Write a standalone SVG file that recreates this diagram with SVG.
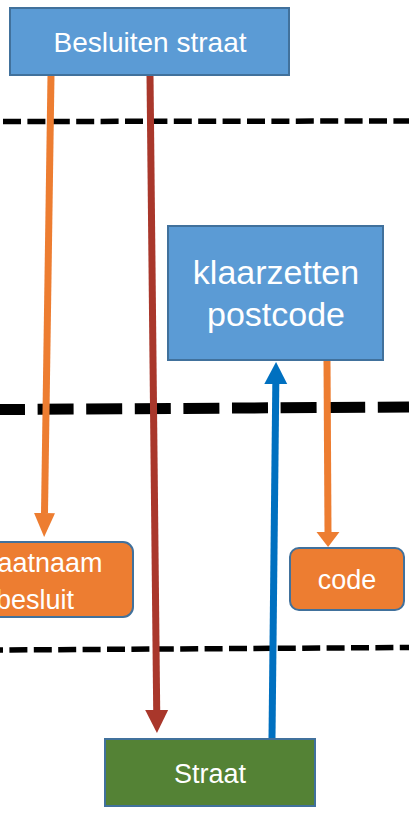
<svg xmlns="http://www.w3.org/2000/svg" width="409" height="814" viewBox="0 0 409 814">
  <style>
    .proc { fill: #5B9BD5; stroke: #41719C; stroke-width: 2; }
    .data { fill: #ED7D31; stroke: #41719C; stroke-width: 2; }
    .entity { fill: #548235; stroke: #41719C; stroke-width: 2; }
    .lbl { font-family: "Liberation Sans", Arial, sans-serif; fill: #FFFFFF; text-anchor: middle; }
    .lane { fill: none; stroke: #000000; }
    .thin { stroke-width: 5.5; stroke-dasharray: 18 6.4; }
    .thick { stroke-width: 11; stroke-dasharray: 36 12.6; }
    .flow { fill: none; stroke-width: 7; }
  </style>
  <defs>
    <marker id="head-orange" markerUnits="userSpaceOnUse" viewBox="0 -12 24 24" refX="0" refY="0" markerWidth="24" markerHeight="24" orient="auto">
      <path d="M0,-10.5 L24,0 L0,10.5 z" fill="#ED7D31"/>
    </marker>
    <marker id="head-orange-short" markerUnits="userSpaceOnUse" viewBox="0 -12 16 24" refX="0" refY="0" markerWidth="16" markerHeight="24" orient="auto">
      <path d="M0,-11.5 L15,0 L0,11.5 z" fill="#ED7D31"/>
    </marker>
    <marker id="head-red" markerUnits="userSpaceOnUse" viewBox="0 -12 24 24" refX="0" refY="0" markerWidth="24" markerHeight="24" orient="auto">
      <path d="M0,-11.5 L23,0 L0,11.5 z" fill="#A9372B"/>
    </marker>
    <marker id="head-blue" markerUnits="userSpaceOnUse" viewBox="0 -12 24 24" refX="0" refY="0" markerWidth="24" markerHeight="24" orient="auto">
      <path d="M0,-11.5 L22,0 L0,11.5 z" fill="#0070C0"/>
    </marker>
  </defs>

  <!-- lane separators -->
  <g id="lanes">
    <line class="lane thin" x1="3" y1="121.5" x2="409" y2="121"/>
    <line class="lane thick" x1="-11" y1="409.6" x2="409" y2="407"/>
    <line class="lane thin" x1="-15" y1="650.1" x2="409" y2="647.5"/>
  </g>

  <!-- connectors -->
  <g id="connectors">
    <line class="flow" stroke="#ED7D31" x1="51" y1="75" x2="44.5" y2="513" marker-end="url(#head-orange)"/>
    <line class="flow" stroke="#A9372B" x1="150" y1="75" x2="156.7" y2="710" marker-end="url(#head-red)"/>
    <line class="flow" stroke="#0070C0" x1="272" y1="738" x2="275.8" y2="384" marker-end="url(#head-blue)"/>
    <line class="flow" stroke="#ED7D31" x1="327" y1="360" x2="328" y2="532" marker-end="url(#head-orange-short)"/>
  </g>

  <g id="besluiten-straat">
    <rect class="proc" x="10" y="8" width="279" height="67"/>
    <text class="lbl" x="150" y="52" font-size="28">Besluiten straat</text>
  </g>

  <g id="klaarzetten-postcode">
    <rect class="proc" x="168" y="226" width="215" height="134"/>
    <text class="lbl" x="276" y="284" font-size="34">klaarzetten</text>
    <text class="lbl" x="276" y="326" font-size="34">postcode</text>
  </g>

  <g id="straatnaam-besluit">
    <rect class="data" x="-63" y="542" width="196" height="75" rx="10"/>
    <text class="lbl" x="35" y="572" font-size="27">straatnaam</text>
    <text class="lbl" x="35" y="609" font-size="27">besluit</text>
  </g>

  <g id="code">
    <rect class="data" x="290" y="548" width="114" height="62" rx="9"/>
    <text class="lbl" x="347" y="589" font-size="27">code</text>
  </g>

  <g id="straat">
    <rect class="entity" x="105" y="739" width="210" height="67"/>
    <text class="lbl" x="210" y="783" font-size="27">Straat</text>
  </g>
</svg>
